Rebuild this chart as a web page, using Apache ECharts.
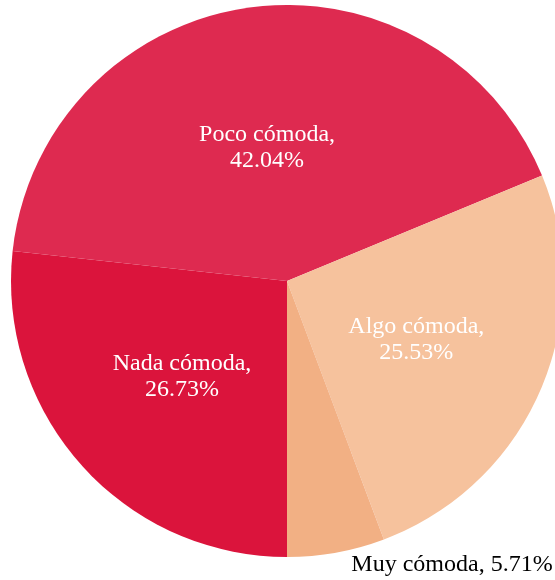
<!DOCTYPE html>
<html>
<head>
<meta charset="utf-8">
<script src="https://cdn.jsdelivr.net/npm/echarts@6/dist/echarts.min.js"></script>
<style>
  html, body { margin: 0; padding: 0; background: #fff; }
  #main { width: 555px; height: 580px; }
</style>
</head>
<body>
<div id="main"></div>
<script>
// categories and shares (%), clockwise from the bottom
var categories = ["Nada cómoda", "Poco cómoda", "Algo cómoda", "Muy cómoda"];
var shares = [26.73, 42.04, 25.53, 5.71];
var colors = ["#db143c", "#de2a50", "#f6c29d", "#f2b084"];

var myChart = echarts.init(document.getElementById('main'));

var pieData = categories.map(function (name, i) {
    var item = { name: name, value: shares[i], itemStyle: { color: colors[i] } };
    if (i === 3) {
        item.label = {
            position: 'outside',
            color: '#000',
            formatter: '{b}, {c}%'
        };
        item.labelLine = { show: false, length: 0, length2: 0 };
    }
    return item;
});

var option = {
    animation: false,
    series: [
        {
            type: 'pie',
            center: [287, 281],
            radius: 276,
            startAngle: 270,
            clockwise: true,
            avoidLabelOverlap: false,
            label: {
                show: true,
                position: 'inside',
                color: '#fff',
                fontFamily: '"Liberation Serif", "DejaVu Serif", serif',
                fontSize: 24,
                lineHeight: 26,
                formatter: '{b},\n{c}%'
            },
            labelLayout: function (params) {
                if (params.dataIndex === 3) {
                    return { x: 452, y: 565, align: 'center', verticalAlign: 'middle' };
                }
                if (params.dataIndex === 1) {
                    return { dy: 6 };
                }
                return { dy: 2 };
            },
            itemStyle: { borderWidth: 0 },
            emphasis: { disabled: true },
            data: pieData
        }
    ]
};

myChart.setOption(option);
</script>
</body>
</html>
